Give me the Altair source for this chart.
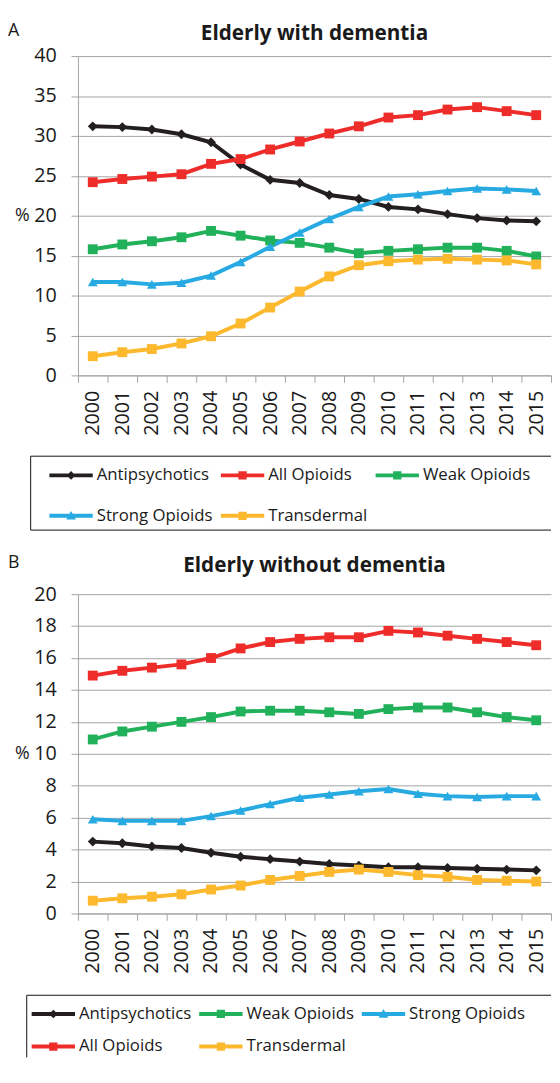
import altair as alt
import pandas as pd

# ---------------- data ----------------
years = [str(y) for y in range(2000, 2016)]

order_A = ["Antipsychotics", "All Opioids", "Weak Opioids", "Strong Opioids", "Transdermal"]
order_B = ["Antipsychotics", "Weak Opioids", "Strong Opioids", "All Opioids", "Transdermal"]

# Panel A: elderly with dementia (%)
antip_A = [31.2, 31.1, 30.8, 30.2, 29.2, 26.4, 24.5, 24.1, 22.6, 22.1, 21.1, 20.8, 20.2, 19.7, 19.4, 19.3]
all_A = [24.2, 24.6, 24.9, 25.2, 26.5, 27.1, 28.3, 29.3, 30.3, 31.2, 32.3, 32.6, 33.3, 33.6, 33.1, 32.6]
weak_A = [15.8, 16.4, 16.8, 17.3, 18.1, 17.5, 16.9, 16.6, 16.0, 15.3, 15.6, 15.8, 16.0, 16.0, 15.6, 14.9]
strong_A = [11.7, 11.7, 11.4, 11.6, 12.5, 14.2, 16.1, 17.9, 19.6, 21.1, 22.4, 22.7, 23.1, 23.4, 23.3, 23.1]
trans_A = [2.4, 2.9, 3.3, 4.0, 4.9, 6.5, 8.5, 10.5, 12.4, 13.8, 14.3, 14.5, 14.6, 14.5, 14.4, 13.9]

# Panel B: elderly without dementia (%)
antip_B = [4.5, 4.4, 4.2, 4.1, 3.8, 3.55, 3.4, 3.25, 3.1, 3.0, 2.9, 2.9, 2.85, 2.8, 2.75, 2.7]
all_B = [14.9, 15.2, 15.4, 15.6, 16.0, 16.6, 17.0, 17.2, 17.3, 17.3, 17.7, 17.6, 17.4, 17.2, 17.0, 16.8]
weak_B = [10.9, 11.4, 11.7, 12.0, 12.3, 12.65, 12.7, 12.7, 12.6, 12.5, 12.8, 12.9, 12.9, 12.6, 12.3, 12.1]
strong_B = [5.9, 5.8, 5.8, 5.8, 6.1, 6.45, 6.85, 7.25, 7.45, 7.65, 7.8, 7.5, 7.35, 7.3, 7.35, 7.35]
trans_B = [0.8, 0.95, 1.05, 1.2, 1.5, 1.75, 2.1, 2.35, 2.6, 2.75, 2.6, 2.4, 2.3, 2.1, 2.05, 2.0]

values_A = {"Antipsychotics": antip_A, "All Opioids": all_A, "Weak Opioids": weak_A,
            "Strong Opioids": strong_A, "Transdermal": trans_A}
values_B = {"Antipsychotics": antip_B, "All Opioids": all_B, "Weak Opioids": weak_B,
            "Strong Opioids": strong_B, "Transdermal": trans_B}

# ---------------- styles ----------------
FONT = "Open Sans"
TXT = "#1a1a1a"
GRAY = "#a3a3a3"
colors = {"Antipsychotics": "#231f20", "All Opioids": "#ee2d2b", "Weak Opioids": "#22b15b",
          "Strong Opioids": "#27aae1", "Transdermal": "#fdb92d"}
point_shapes = {"Antipsychotics": "diamond", "All Opioids": "square", "Weak Opioids": "square",
                "Strong Opioids": "triangle-up", "Transdermal": "square"}

LINE = "M-2,-0.18H2V0.18H-2Z"
SQUARE = LINE + "M-0.38,-0.38H0.38V0.38H-0.38Z"
legend_paths = {"Antipsychotics": LINE + "M0,-0.4L0.4,0L0,0.4L-0.4,0Z",
                "All Opioids": SQUARE, "Weak Opioids": SQUARE,
                "Strong Opioids": LINE + "M0,-0.45L0.45,0.35L-0.45,0.35Z",
                "Transdermal": SQUARE}

W, H = 480, 324


def make_panel(vals, order, ymax, ystep, letter, title, lg):
    df = pd.DataFrame([
        {"year": y, "series": s, "value": v, "marker": point_shapes[s]}
        for s in order for y, v in zip(years, vals[s])
    ])
    x = alt.X("year:O", sort=years,
              scale=alt.Scale(type="band", paddingInner=0, paddingOuter=0),
              axis=alt.Axis(title=None, labelAngle=-90, labelFontSize=20, labelFont=FONT,
                            labelColor=TXT, tickBand="extent", tickSize=7, tickColor=GRAY,
                            domainColor=GRAY, labelPadding=8, grid=False))
    y = alt.Y("value:Q", scale=alt.Scale(domain=[0, ymax], nice=False, zero=True),
              axis=alt.Axis(values=list(range(0, ymax + 1, ystep)), title="%", titleAngle=0,
                            titleX=-57, titleY=H / 2, titleAlign="center", titleBaseline="middle",
                            titleFontSize=18, titleFontWeight="normal", titleFont=FONT, titleColor=TXT,
                            labelFontSize=20, labelFont=FONT, labelColor=TXT, labelPadding=15,
                            tickSize=7, tickColor=GRAY, domainColor=GRAY, grid=True,
                            gridColor=GRAY, gridWidth=1))
    legend = alt.Legend(
        title=None, orient="none", legendX=lg["x"], legendY=lg["y"], direction="horizontal",
        columns=3, symbolSize=484, labelFontSize=17, labelFont=FONT, labelColor=TXT,
        labelOffset=15, rowPadding=lg["rowpad"], columnPadding=lg["colpad"], padding=0,
        labelLimit=300, symbolStrokeWidth=0, symbolOpacity=1)
    color = alt.Color("series:N", scale=alt.Scale(domain=order, range=[colors[s] for s in order]),
                      legend=legend)
    base = alt.Chart(df)
    lines = base.mark_line(strokeWidth=4).encode(x=x, y=y, color=color)
    points = base.mark_point(filled=True, size=100, opacity=1).encode(
        x=x, y=y, color=color, shape=alt.Shape("marker:N", scale=None))
    # layer without rows: only carries the legend (colour + line-with-marker symbol)
    legend_layer = base.transform_filter("false").mark_point(filled=True, opacity=1).encode(
        color=color,
        shape=alt.Shape("series:N", scale=alt.Scale(domain=order, range=[legend_paths[s] for s in order]),
                        legend=legend))
    letter_t = alt.Chart(alt.Data(values=[{"t": letter}])).mark_text(
        align="left", baseline="alphabetic", fontSize=18, font=FONT, color=TXT
    ).encode(text="t:N", x=alt.value(-71), y=alt.value(lg["ly"]))
    title_t = alt.Chart(alt.Data(values=[{"t": title}])).mark_text(
        align="center", baseline="alphabetic", fontSize=21, fontWeight="bold", font=FONT, color=TXT
    ).encode(text="t:N", x=alt.value(W / 2), y=alt.value(lg["ty"]))
    box = alt.Chart(alt.Data(values=[{}]))
    top_guide = box.mark_rule(strokeWidth=1, strokeOpacity=0).encode(
        x=alt.value(0), x2=alt.value(10), y=alt.value(lg["top"]))
    r_top = box.mark_rule(color="#111", strokeWidth=1).encode(
        x=alt.value(lg["bx"]), x2=alt.value(W), y=alt.value(lg["btop"]))
    r_left = box.mark_rule(color="#111", strokeWidth=1).encode(
        x=alt.value(lg["bx"]), y=alt.value(lg["btop"]), y2=alt.value(lg["bbot"]))
    layers = [lines, points, legend_layer, letter_t, title_t, top_guide, r_top, r_left]
    if lg["bottom_line"]:
        layers.append(box.mark_rule(color="#111", strokeWidth=1).encode(
            x=alt.value(lg["bx"]), x2=alt.value(W), y=alt.value(lg["bbot"])))
    return alt.layer(*layers).properties(width=W, height=H)


panel_A = make_panel(values_A, order_A, 40, 5, "A", "Elderly with dementia",
                     {"x": -18, "y": 414.5, "rowpad": 22, "colpad": 8, "ly": -20, "ty": -16.5,
                      "top": -40.3, "bx": -48, "btop": 406, "bbot": 481, "bottom_line": True})
panel_B = make_panel(values_B, order_B, 20, 2, "B", "Elderly without dementia",
                     {"x": -36, "y": 415, "rowpad": 14, "colpad": 8, "ly": -27, "ty": -22,
                      "top": -46.5, "bx": -52, "btop": 407, "bbot": 470, "bottom_line": False})

chart = (
    alt.vconcat(panel_A, panel_B, spacing=17)
    .resolve_scale(color="independent", shape="independent", x="independent", y="independent")
    .resolve_legend(color="independent", shape="independent")
    .properties(padding=0)
    .configure(font=FONT)
    .configure_view(stroke=None)
)

chart.save("out.html", embed_options={"renderer": "svg", "actions": False})
